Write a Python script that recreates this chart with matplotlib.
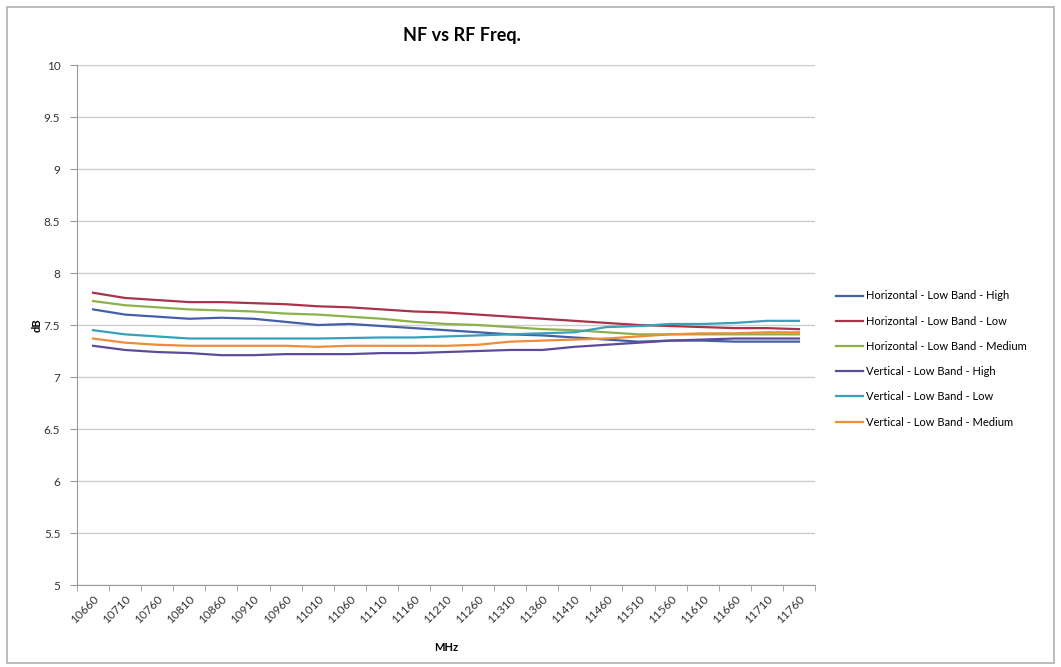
import numpy as np
import matplotlib.pyplot as plt
from matplotlib.patches import Rectangle

plt.rcParams['font.family'] = ['Lato', 'DejaVu Sans']

# RF frequency sweep (MHz) and measured noise figure (dB) per polarisation / LNB band setting
freqs = list(range(10660, 11761, 50))

h_high = [7.65, 7.60, 7.58, 7.56, 7.57, 7.56, 7.53, 7.50, 7.51, 7.49, 7.47, 7.45,
          7.43, 7.41, 7.40, 7.38, 7.36, 7.34, 7.35, 7.35, 7.34, 7.34, 7.34]
h_low = [7.81, 7.76, 7.74, 7.72, 7.72, 7.71, 7.70, 7.68, 7.67, 7.65, 7.63, 7.62,
         7.60, 7.58, 7.56, 7.54, 7.52, 7.50, 7.49, 7.48, 7.47, 7.47, 7.46]
h_med = [7.73, 7.69, 7.67, 7.65, 7.64, 7.63, 7.61, 7.60, 7.58, 7.56, 7.53, 7.51,
         7.50, 7.48, 7.46, 7.45, 7.43, 7.41, 7.41, 7.41, 7.41, 7.41, 7.41]
v_high = [7.30, 7.26, 7.24, 7.23, 7.21, 7.21, 7.22, 7.22, 7.22, 7.23, 7.23, 7.24,
          7.25, 7.26, 7.26, 7.29, 7.31, 7.33, 7.35, 7.36, 7.37, 7.37, 7.37]
v_low = [7.45, 7.41, 7.39, 7.37, 7.37, 7.37, 7.37, 7.37, 7.375, 7.38, 7.38, 7.39,
         7.40, 7.41, 7.42, 7.43, 7.48, 7.49, 7.51, 7.51, 7.52, 7.54, 7.54]
v_med = [7.37, 7.33, 7.31, 7.30, 7.30, 7.30, 7.30, 7.29, 7.30, 7.30, 7.30, 7.30,
         7.31, 7.34, 7.35, 7.36, 7.37, 7.39, 7.41, 7.42, 7.42, 7.43, 7.43]

series = [
    ('Horizontal - Low Band - High', h_high, '#4160a8'),
    ('Horizontal - Low Band - Low', h_low, '#a83449'),
    ('Horizontal - Low Band - Medium', h_med, '#8cb04c'),
    ('Vertical - Low Band - High', v_high, '#5e4b98'),
    ('Vertical - Low Band - Low', v_low, '#38a0b8'),
    ('Vertical - Low Band - Medium', v_med, '#ee8c38'),
]

fig = plt.figure(figsize=(10.61, 6.67), dpi=100)
fig.patches.append(Rectangle((7 / 1061, 4 / 667), 1047 / 1061, 656 / 667,
                             transform=fig.transFigure, fill=False,
                             edgecolor='#b0b0b0', linewidth=1.2))

ax = fig.add_axes([77 / 1061, 1 - 585 / 667, 738 / 1061, 520 / 667])
x = np.arange(len(freqs))
for name, vals, col in series:
    ax.plot(x, vals, color=col, lw=1.6, label=name)

ax.set_xlim(-0.5, len(freqs) - 0.5)
ax.set_ylim(5, 10)
yt = np.arange(5, 10.01, 0.5)
ax.set_yticks(yt)
ax.set_yticklabels(['%g' % v for v in yt])
ax.set_xticks(x)
ax.set_xticklabels([str(f) for f in freqs], rotation=45, ha='right',
                   rotation_mode='anchor')
ax.set_xticks(np.arange(-0.5, len(freqs), 1), minor=True)
ax.tick_params(axis='x', which='major', length=0, labelsize=8.5, pad=6,
               labelcolor='#333333')
ax.tick_params(axis='x', which='minor', length=4, color='#999999')
ax.tick_params(axis='y', length=5, color='#999999', labelsize=8.5,
               labelcolor='#333333', pad=7)

ax.grid(axis='y', color='#cccccc', lw=1)
ax.set_axisbelow(True)
for side in ['top', 'right']:
    ax.spines[side].set_visible(False)
ax.spines['left'].set_color('#999999')
ax.spines['bottom'].set_color('#999999')

ax.set_ylabel('dB', fontsize=8, fontweight='bold', labelpad=1)
ax.set_xlabel('MHz', fontsize=8, fontweight='bold', labelpad=12)
fig.text(462 / 1061, 1 - 36 / 667, 'NF vs RF Freq.', fontsize=13,
         fontweight='bold', ha='center', va='center')

fig.legend(loc='upper left', bbox_to_anchor=(832 / 1061, 1 - 286 / 667),
           frameon=False, fontsize=8, handlelength=2.4, handletextpad=0.25,
           labelspacing=1.28, borderaxespad=0)

fig.savefig('out.png', dpi=100)
